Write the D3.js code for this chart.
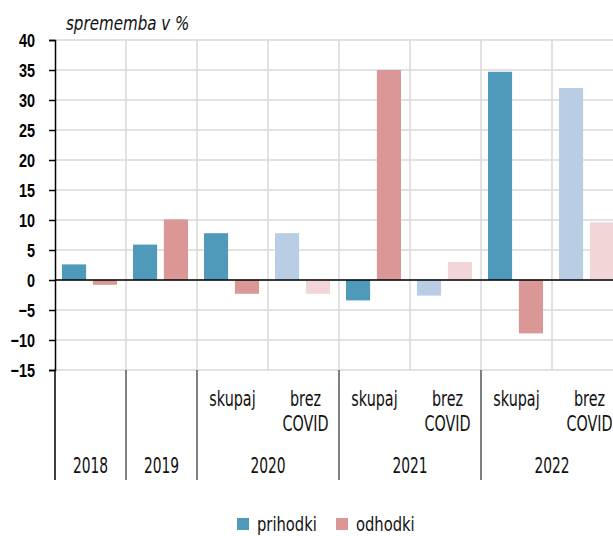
<!DOCTYPE html>
<html>
<head>
<meta charset="utf-8">
<script src="https://cdn.jsdelivr.net/npm/d3@7"></script>
<style>
  html, body { margin: 0; padding: 0; background: #fff; }
  svg { display: block; font-family: "DejaVu Sans Condensed", "DejaVu Sans", sans-serif; }
</style>
</head>
<body>
<div id="chart"></div>
<script>
const categories = ['2018', '2019', '2020 skupaj', '2020 brez', '2021 skupaj', '2021 brez', '2022 skupaj', '2022 brez'];
const subLabels = ['', '', 'skupaj', 'brez|COVID', 'skupaj', 'brez|COVID', 'skupaj', 'brez|COVID'];
const years = ['2018', '2019', '2020', '2021', '2022'];
const yearSpans = [1, 1, 2, 2, 2];
const series = ['prihodki', 'odhodki'];
const prihodki = [2.6, 5.9, 7.8, 7.8, -3.4, -2.6, 34.7, 32.0];
const odhodki = [-0.8, 10.1, -2.3, -2.3, 35.0, 3.0, -8.9, 9.6];
const yTicks = [-15, -10, -5, 0, 5, 10, 15, 20, 25, 30, 35, 40];

const width = 613, height = 536;
const plotLeft = 55, plotTop = 40, plotBottom = 370, catW = 71;
const colors = { prihodki: '#4f9aba', odhodki: '#da9795' };
const lightColors = { prihodki: '#b9cde5', odhodki: '#f2d5d6' };

const svg = d3.select('#chart').append('svg')
  .attr('width', width)
  .attr('height', height);

const x = d3.scaleBand()
  .domain(categories)
  .range([plotLeft, plotLeft + catW * categories.length]);

const xs = d3.scaleBand()
  .domain(series)
  .range([7, 62])
  .paddingInner(0.22);

const y = d3.scaleLinear()
  .domain([-15, 40])
  .range([plotBottom, plotTop]);

// narrow text: the reference font is a tall condensed face
function narrowText(sel, px, py, size, sx) {
  return sel.append('text')
    .attr('transform', `translate(${px},${py}) scale(${sx},1)`)
    .style('font-size', size + 'px')
    .attr('fill', '#111');
}

// grid
svg.append('g')
  .selectAll('line')
  .data(yTicks)
  .enter().append('line')
  .attr('x1', plotLeft).attr('x2', width)
  .attr('y1', d => y(d)).attr('y2', d => y(d))
  .attr('stroke', '#d9d9d9')
  .attr('stroke-width', 1.5);

svg.append('g')
  .selectAll('line')
  .data(categories.slice(1))
  .enter().append('line')
  .attr('x1', d => x(d)).attr('x2', d => x(d))
  .attr('y1', plotTop).attr('y2', plotBottom)
  .attr('stroke', '#d9d9d9')
  .attr('stroke-width', 1.5);

// bars
const rows = categories.map((c, i) => ({ cat: c, light: c.endsWith('brez'), prihodki: prihodki[i], odhodki: odhodki[i] }));

const groups = svg.append('g')
  .selectAll('g')
  .data(rows)
  .enter().append('g')
  .attr('transform', d => `translate(${x(d.cat)},0)`);

groups.selectAll('rect')
  .data(d => series.map(s => ({ key: s, value: d[s], light: d.light })))
  .enter().append('rect')
  .attr('x', d => xs(d.key))
  .attr('width', xs.bandwidth())
  .attr('y', d => y(Math.max(0, d.value)))
  .attr('height', d => Math.abs(y(d.value) - y(0)))
  .attr('fill', d => d.light ? lightColors[d.key] : colors[d.key]);

// zero line
svg.append('line')
  .attr('x1', plotLeft).attr('x2', width)
  .attr('y1', y(0)).attr('y2', y(0))
  .attr('stroke', '#000')
  .attr('stroke-width', 1.5);

// y axis
const ySx = 0.76;
const yAxis = svg.append('g')
  .attr('transform', `translate(${plotLeft},0)`)
  .call(d3.axisLeft(y).tickValues(yTicks).tickSize(6).tickPadding(14).tickFormat(d3.format('d')));
yAxis.select('.domain').attr('stroke', '#000').attr('stroke-width', 1.5);
yAxis.selectAll('.tick line').attr('stroke', '#000').attr('stroke-width', 1.5);
yAxis.selectAll('text')
  .attr('fill', '#000')
  .style('font-size', '19px')
  .style('font-weight', 'bold')
  .attr('x', -20 / ySx)
  .attr('transform', `scale(${ySx},1)`)
  .attr('dy', '0.36em');

// axis extension and separators below plot
let pos = 0;
const bounds = [0];
yearSpans.forEach(s => { pos += s; bounds.push(pos); });
svg.append('g')
  .selectAll('line')
  .data(bounds.filter(b => b < categories.length))
  .enter().append('line')
  .attr('x1', d => x(categories[d])).attr('x2', d => x(categories[d]))
  .attr('y1', plotBottom).attr('y2', 480)
  .attr('stroke', d => d === 0 ? '#000' : '#555')
  .attr('stroke-width', 1.5);

// sub labels
const subG = svg.append('g');
categories.forEach((c, i) => {
  if (!subLabels[i]) return;
  const lines = subLabels[i].split('|');
  const cx = x(c) + catW / 2 + (lines.length > 1 ? 2 : 0);
  lines.forEach((l, j) => {
    narrowText(subG, cx, 406 + j * 25, 21, 0.76)
      .attr('text-anchor', 'middle')
      .text(l);
  });
});

// year labels
const yearG = svg.append('g');
years.forEach((yv, i) => {
  const cx = x(categories[bounds[i]]) + yearSpans[i] * catW / 2;
  narrowText(yearG, cx, 473, 22, 0.7)
    .attr('text-anchor', 'middle')
    .text(yv);
});

// unit title
narrowText(svg, 66, 30, 20, 0.84)
  .style('font-style', 'italic')
  .text('sprememba v %');

// legend
const legend = svg.append('g')
  .selectAll('g')
  .data(series)
  .enter().append('g')
  .attr('transform', (d, i) => `translate(${237 + i * 99},518)`);
legend.append('rect')
  .attr('width', 12).attr('height', 12)
  .attr('fill', d => colors[d]);
legend.append('text')
  .attr('transform', 'translate(20,13) scale(0.82,1)')
  .style('font-size', '20px')
  .attr('fill', '#111')
  .text(d => d);
</script>
</body>
</html>
